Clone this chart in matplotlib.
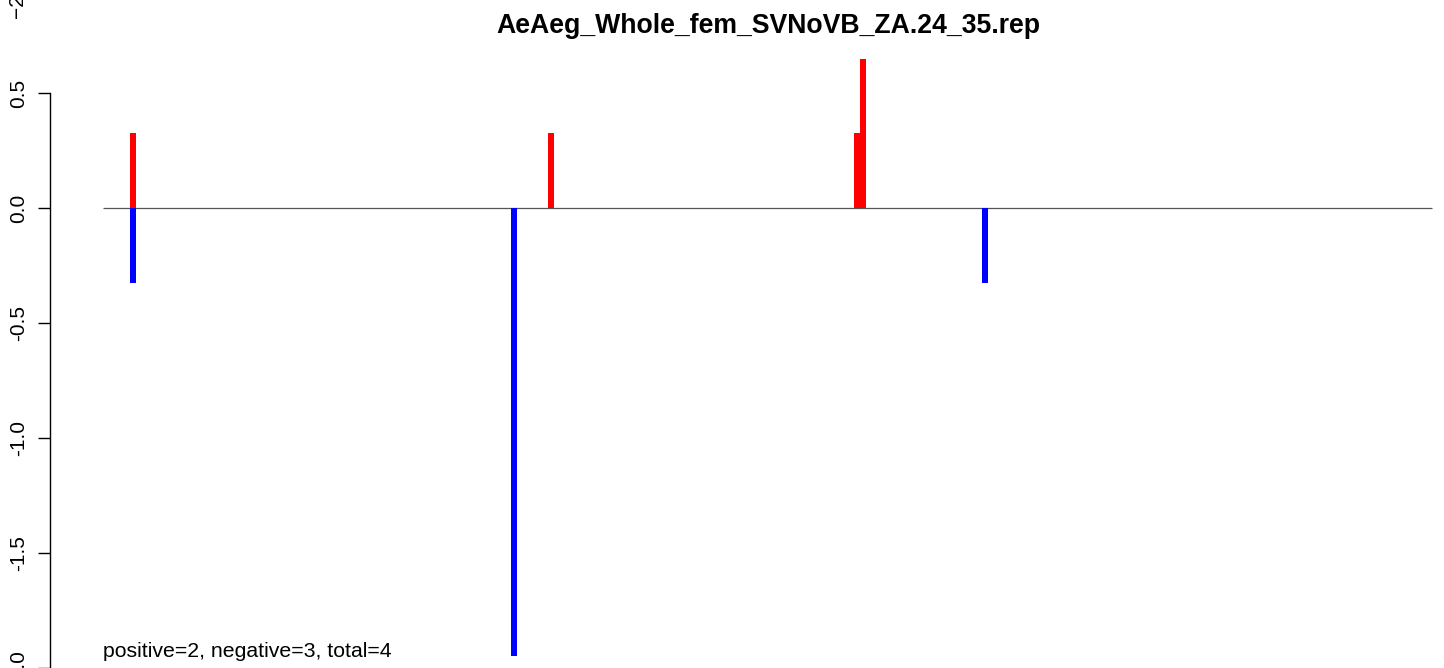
import matplotlib
matplotlib.use('Agg')
import matplotlib.pyplot as plt

plt.rcParams['font.family'] = ['Liberation Sans', 'DejaVu Sans']

# datos
titulo = 'AeAeg_Whole_fem_SVNoVB_ZA.24_35.rep'
pos_positivos = [5.0, 74.7, 125.7, 126.7]
val_positivos = [0.324, 0.324, 0.324, 0.648]
pos_negativos = [5.0, 68.5, 147.0]
val_negativos = [-0.324, -1.948, -0.324]
n_total = 221.5
resumen = 'positive=2, negative=3, total=4'
yticks = [0.5, 0.0, -0.5, -1.0, -1.5, -2.0]

W, H = 1444, 668
fig = plt.figure(figsize=(W / 100, H / 100), dpi=100)
ax = fig.add_axes([50 / W, 0, 1 - 50 / W, 1])
ax.set_xlim(-53 / 6, 1341 / 6)
ax.set_ylim(-2.0, 208 / 230)

ax.hlines(0, 0, n_total, color='#555555', lw=0.9, zorder=1)
ax.bar(pos_positivos, val_positivos, width=1.0, color='#ff0000', zorder=2)
ax.bar(pos_negativos, val_negativos, width=1.0, color='#0000ff', zorder=2)

for s in ['top', 'right', 'bottom']:
    ax.spines[s].set_visible(False)
ax.spines['left'].set_bounds(-2.0, 0.5)
ax.spines['left'].set_linewidth(1.0)
ax.set_xticks([])
ax.set_yticks(yticks)
ax.set_yticklabels(['%.1f' % v for v in yticks], rotation=90, va='center', fontsize=15)
ax.tick_params(axis='y', length=8.6, width=1.0, pad=7)

fig.text(768 / W, 1 - 26 / H, titulo, ha='center', va='center',
         fontsize=19.2, fontweight='bold')
ax.text(0, -1.952, resumen, ha='left', va='baseline', fontsize=15.3)
# etiqueta cortada arriba a la izquierda
fig.text(17 / W, 1 - 18 / H, '\u22122.0', rotation=90, ha='center', va='bottom', fontsize=15)

fig.savefig('out.png', dpi=100)
